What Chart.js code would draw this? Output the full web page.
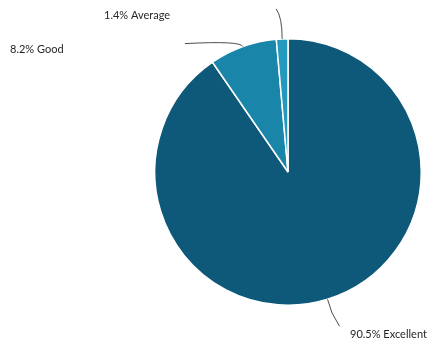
<!DOCTYPE html>
<html>
<head>
<meta charset="utf-8">
<script src="https://cdn.jsdelivr.net/npm/chart.js@4"></script>
<style>
  html, body { margin: 0; padding: 0; background: #fff; }
  #ratingChart { display: block; }
</style>
</head>
<body>
<canvas id="ratingChart" width="434" height="344"></canvas>
<script>
// Rating breakdown
const ratingLabels = ["Excellent", "Good", "Average"];
const ratingShares = [90.5, 8.2, 1.4];
const ratingColors = ["#0e5879", "#1985a8", "#2499bd"];

// where each callout text goes and how its leader line bends
const callouts = [
    { dx: 12, dy: 27, tx: 350, ty: 334, bend: [3, 14] },
    { dx: -58, dy: -3, tx: 10, ty: 49, bend: [-2, -6] },
    { dx: -6, dy: -30, tx: 104, ty: 15, bend: [0, -22] }
];

// Draws "xx.x% Label" callouts with thin leader lines
const calloutPlugin = {
    id: "callouts",
    afterDraw(chart) {
        const ctx = chart.ctx;
        const arcs = chart.getDatasetMeta(0).data;
        ctx.save();
        ctx.font = "11px Lato, 'DejaVu Sans', sans-serif";
        ctx.textBaseline = "middle";
        ctx.fillStyle = "#262626";
        arcs.forEach((arc, i) => {
            const mid = (arc.startAngle + arc.endAngle) / 2;
            const sx = arc.x + Math.cos(mid) * arc.outerRadius;
            const sy = arc.y + Math.sin(mid) * arc.outerRadius;
            const c = callouts[i];
            const ex = sx + c.dx;
            const ey = sy + c.dy;
            ctx.strokeStyle = "#3a3a3a";
            ctx.lineWidth = 0.9;
            ctx.beginPath();
            ctx.moveTo(sx, sy);
            ctx.quadraticCurveTo(sx + c.bend[0], sy + c.bend[1], ex, ey);
            ctx.stroke();
            ctx.fillText(ratingShares[i].toFixed(1) + "% " + ratingLabels[i], c.tx, c.ty);
        });
        ctx.restore();
    }
};

new Chart(document.getElementById("ratingChart"), {
    type: "pie",
    data: {
        labels: ratingLabels,
        datasets: [{
            data: ratingShares,
            backgroundColor: ratingColors,
            borderColor: "#ffffff",
            borderWidth: 1.5
        }]
    },
    options: {
        responsive: false,
        animation: false,
        layout: {
            padding: { left: 154, right: 12, top: 38, bottom: 38 }
        },
        plugins: {
            legend: { display: false },
            tooltip: { enabled: false }
        }
    },
    plugins: [calloutPlugin]
});
</script>
</body>
</html>
